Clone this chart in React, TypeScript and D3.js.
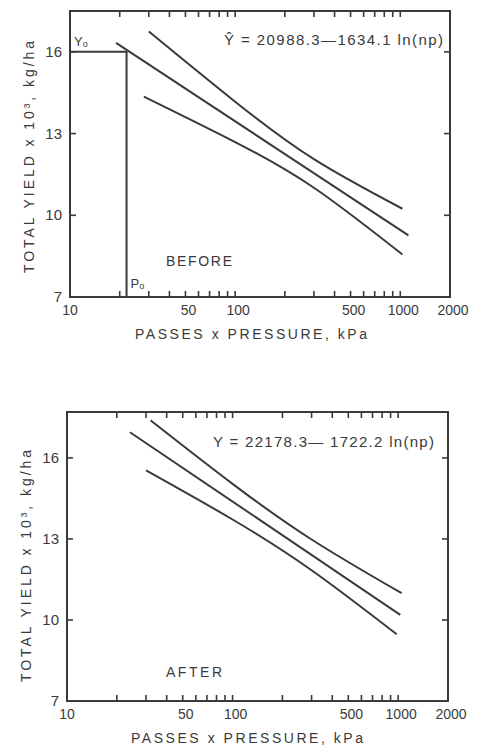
import * as d3 from "d3";

const INK = "#3a3a3a";
const FONT = "'Liberation Sans', Arial, sans-serif";

// axis ticks
const xMinorTicks = [20, 30, 40, 50, 60, 70, 80, 90, 100, 200, 300, 400, 500, 600, 700, 800, 900, 1000];
const xTickLabels = [10, 50, 100, 500, 1000, 2000];
const yTicks = [10, 13, 16];
const yTickLabels = [7, 10, 13, 16];

// BEFORE: fitted line + upper / lower bands
const beforeFitX = [19, 1120];
const beforeFitY = [16.33, 9.26];
const beforeUpperX = [30, 100, 300, 1030];
const beforeUpperY = [16.75, 14.17, 12.06, 10.24];
const beforeLowerX = [28, 100, 300, 1030];
const beforeLowerY = [14.36, 12.69, 11.01, 8.56];
const beforeY0 = 16;
const beforeP0 = 22;

// AFTER
const afterFitX = [24, 1030];
const afterFitY = [16.95, 10.19];
const afterUpperX = [32, 100, 300, 1050];
const afterUpperY = [17.39, 15.04, 12.98, 10.99];
const afterLowerX = [30, 100, 300, 980];
const afterLowerY = [15.54, 13.72, 11.84, 9.47];

type Box = { left: number; right: number; top: number; bottom: number };

const zip = (xs: number[], ys: number[]) => xs.map((v, i) => [v, ys[i]] as [number, number]);

const Panel = ({
  box,
  yMax,
  lines,
  equation,
  eqX,
  eqLen,
  eqBaseline,
  label,
  labelLen,
  labelDy,
  xTitleCx,
  yTitleCy,
  marker,
}: {
  box: Box;
  yMax: number;
  lines: [number, number][][];
  equation: string;
  eqX: number;
  eqLen: number;
  eqBaseline: number;
  label: string;
  labelLen: number;
  labelDy: number;
  xTitleCx: number;
  yTitleCy: number;
  marker?: { y0: number; p0: number };
}) => {
  const x = d3.scaleLog().domain([10, 2000]).range([box.left, box.right]);
  const y = d3.scaleLinear().domain([7, yMax]).range([box.bottom, box.top]);
  const line = d3
    .line<[number, number]>()
    .x((d) => x(d[0]))
    .y((d) => y(d[1]))
    .curve(d3.curveNatural);
  const TICK = 6;

  return (
    <g>
      {/* frame */}
      <rect
        x={box.left}
        y={box.top}
        width={box.right - box.left}
        height={box.bottom - box.top}
        fill="none"
        stroke={INK}
        strokeWidth={2}
      />
      {/* x ticks, top and bottom, pointing inwards */}
      {xMinorTicks.map((t) => (
        <g key={t}>
          <line x1={x(t)} x2={x(t)} y1={box.bottom} y2={box.bottom - TICK} stroke={INK} strokeWidth={1.6} />
          <line x1={x(t)} x2={x(t)} y1={box.top} y2={box.top + TICK} stroke={INK} strokeWidth={1.6} />
        </g>
      ))}
      {/* y ticks, left and right */}
      {yTicks.map((t) => (
        <g key={t}>
          <line x1={box.left} x2={box.left + TICK} y1={y(t)} y2={y(t)} stroke={INK} strokeWidth={1.6} />
          <line x1={box.right} x2={box.right - TICK} y1={y(t)} y2={y(t)} stroke={INK} strokeWidth={1.6} />
        </g>
      ))}
      {xTickLabels.map((t) => (
        <text
          key={t}
          x={x(t) + (t === 10 ? 0 : 3)}
          y={box.bottom + 18}
          textAnchor="middle"
          fontSize={14}
          fill={INK}
        >
          {t}
        </text>
      ))}
      {yTickLabels.map((t) => (
        <text key={t} x={box.left - 8} y={y(t) + 5} textAnchor="end" fontSize={15} fill={INK}>
          {t}
        </text>
      ))}
      {/* axis titles */}
      <text
        x={xTitleCx}
        y={box.bottom + 42}
        textAnchor="middle"
        fontSize={14}
        fill={INK}
        textLength={232}
        lengthAdjust="spacing"
      >
        PASSES x PRESSURE, kPa
      </text>
      <text
        transform={`translate(${box.left - 36},${yTitleCy}) rotate(-90)`}
        textAnchor="middle"
        fontSize={14}
        fill={INK}
        textLength={232}
        lengthAdjust="spacing"
      >
        TOTAL YIELD x 10³, kg/ha
      </text>
      {/* Y0 / P0 guide */}
      {marker && (
        <g>
          <path
            d={`M${x(10)},${y(marker.y0)}H${x(marker.p0)}V${y(7)}`}
            fill="none"
            stroke={INK}
            strokeWidth={2}
          />
          <text x={x(10) + 4} y={y(marker.y0) - 6} fontSize={13} fill={INK}>
            Y<tspan fontSize={9} dy={1}>o</tspan>
          </text>
          <text x={x(marker.p0) + 4} y={y(7) - 9} fontSize={13} fill={INK}>
            P<tspan fontSize={9} dy={1}>o</tspan>
          </text>
        </g>
      )}
      {/* regression line and bands */}
      {lines.map((pts, i) => (
        <path key={i} d={line(pts) || ""} fill="none" stroke={INK} strokeWidth={2} />
      ))}
      <text
        x={eqX}
        y={eqBaseline}
        fontSize={15}
        fill={INK}
        textLength={eqLen}
        lengthAdjust="spacing"
      >
        {equation}
      </text>
      <text
        x={166}
        y={box.bottom - labelDy}
        fontSize={14}
        fill={INK}
        textLength={labelLen}
        lengthAdjust="spacing"
      >
        {label}
      </text>
    </g>
  );
};

export default function App() {
  return (
    <svg
      width={485}
      height={747}
      style={{ position: "absolute", left: 0, top: 0, background: "#fff", fontFamily: FONT }}
    >
      <Panel
        box={{ left: 70, right: 450, top: 11, bottom: 297 }}
        yMax={17.5}
        lines={[
          zip(beforeFitX, beforeFitY),
          zip(beforeUpperX, beforeUpperY),
          zip(beforeLowerX, beforeLowerY),
        ]}
        equation="Ŷ = 20988.3—1634.1 ln(np)"
        eqX={224}
        eqLen={219}
        eqBaseline={45}
        label="BEFORE"
        labelLen={66}
        labelDy={31}
        xTitleCx={251}
        yTitleCy={157}
        marker={{ y0: beforeY0, p0: beforeP0 }}
      />
      <Panel
        box={{ left: 67, right: 448, top: 412, bottom: 701 }}
        yMax={17.7}
        lines={[
          zip(afterFitX, afterFitY),
          zip(afterUpperX, afterUpperY),
          zip(afterLowerX, afterLowerY),
        ]}
        equation="Y = 22178.3— 1722.2 ln(np)"
        eqX={213}
        eqLen={221}
        eqBaseline={447}
        label="AFTER"
        labelLen={56}
        labelDy={24}
        xTitleCx={247}
        yTitleCy={566}
      />
    </svg>
  );
}
